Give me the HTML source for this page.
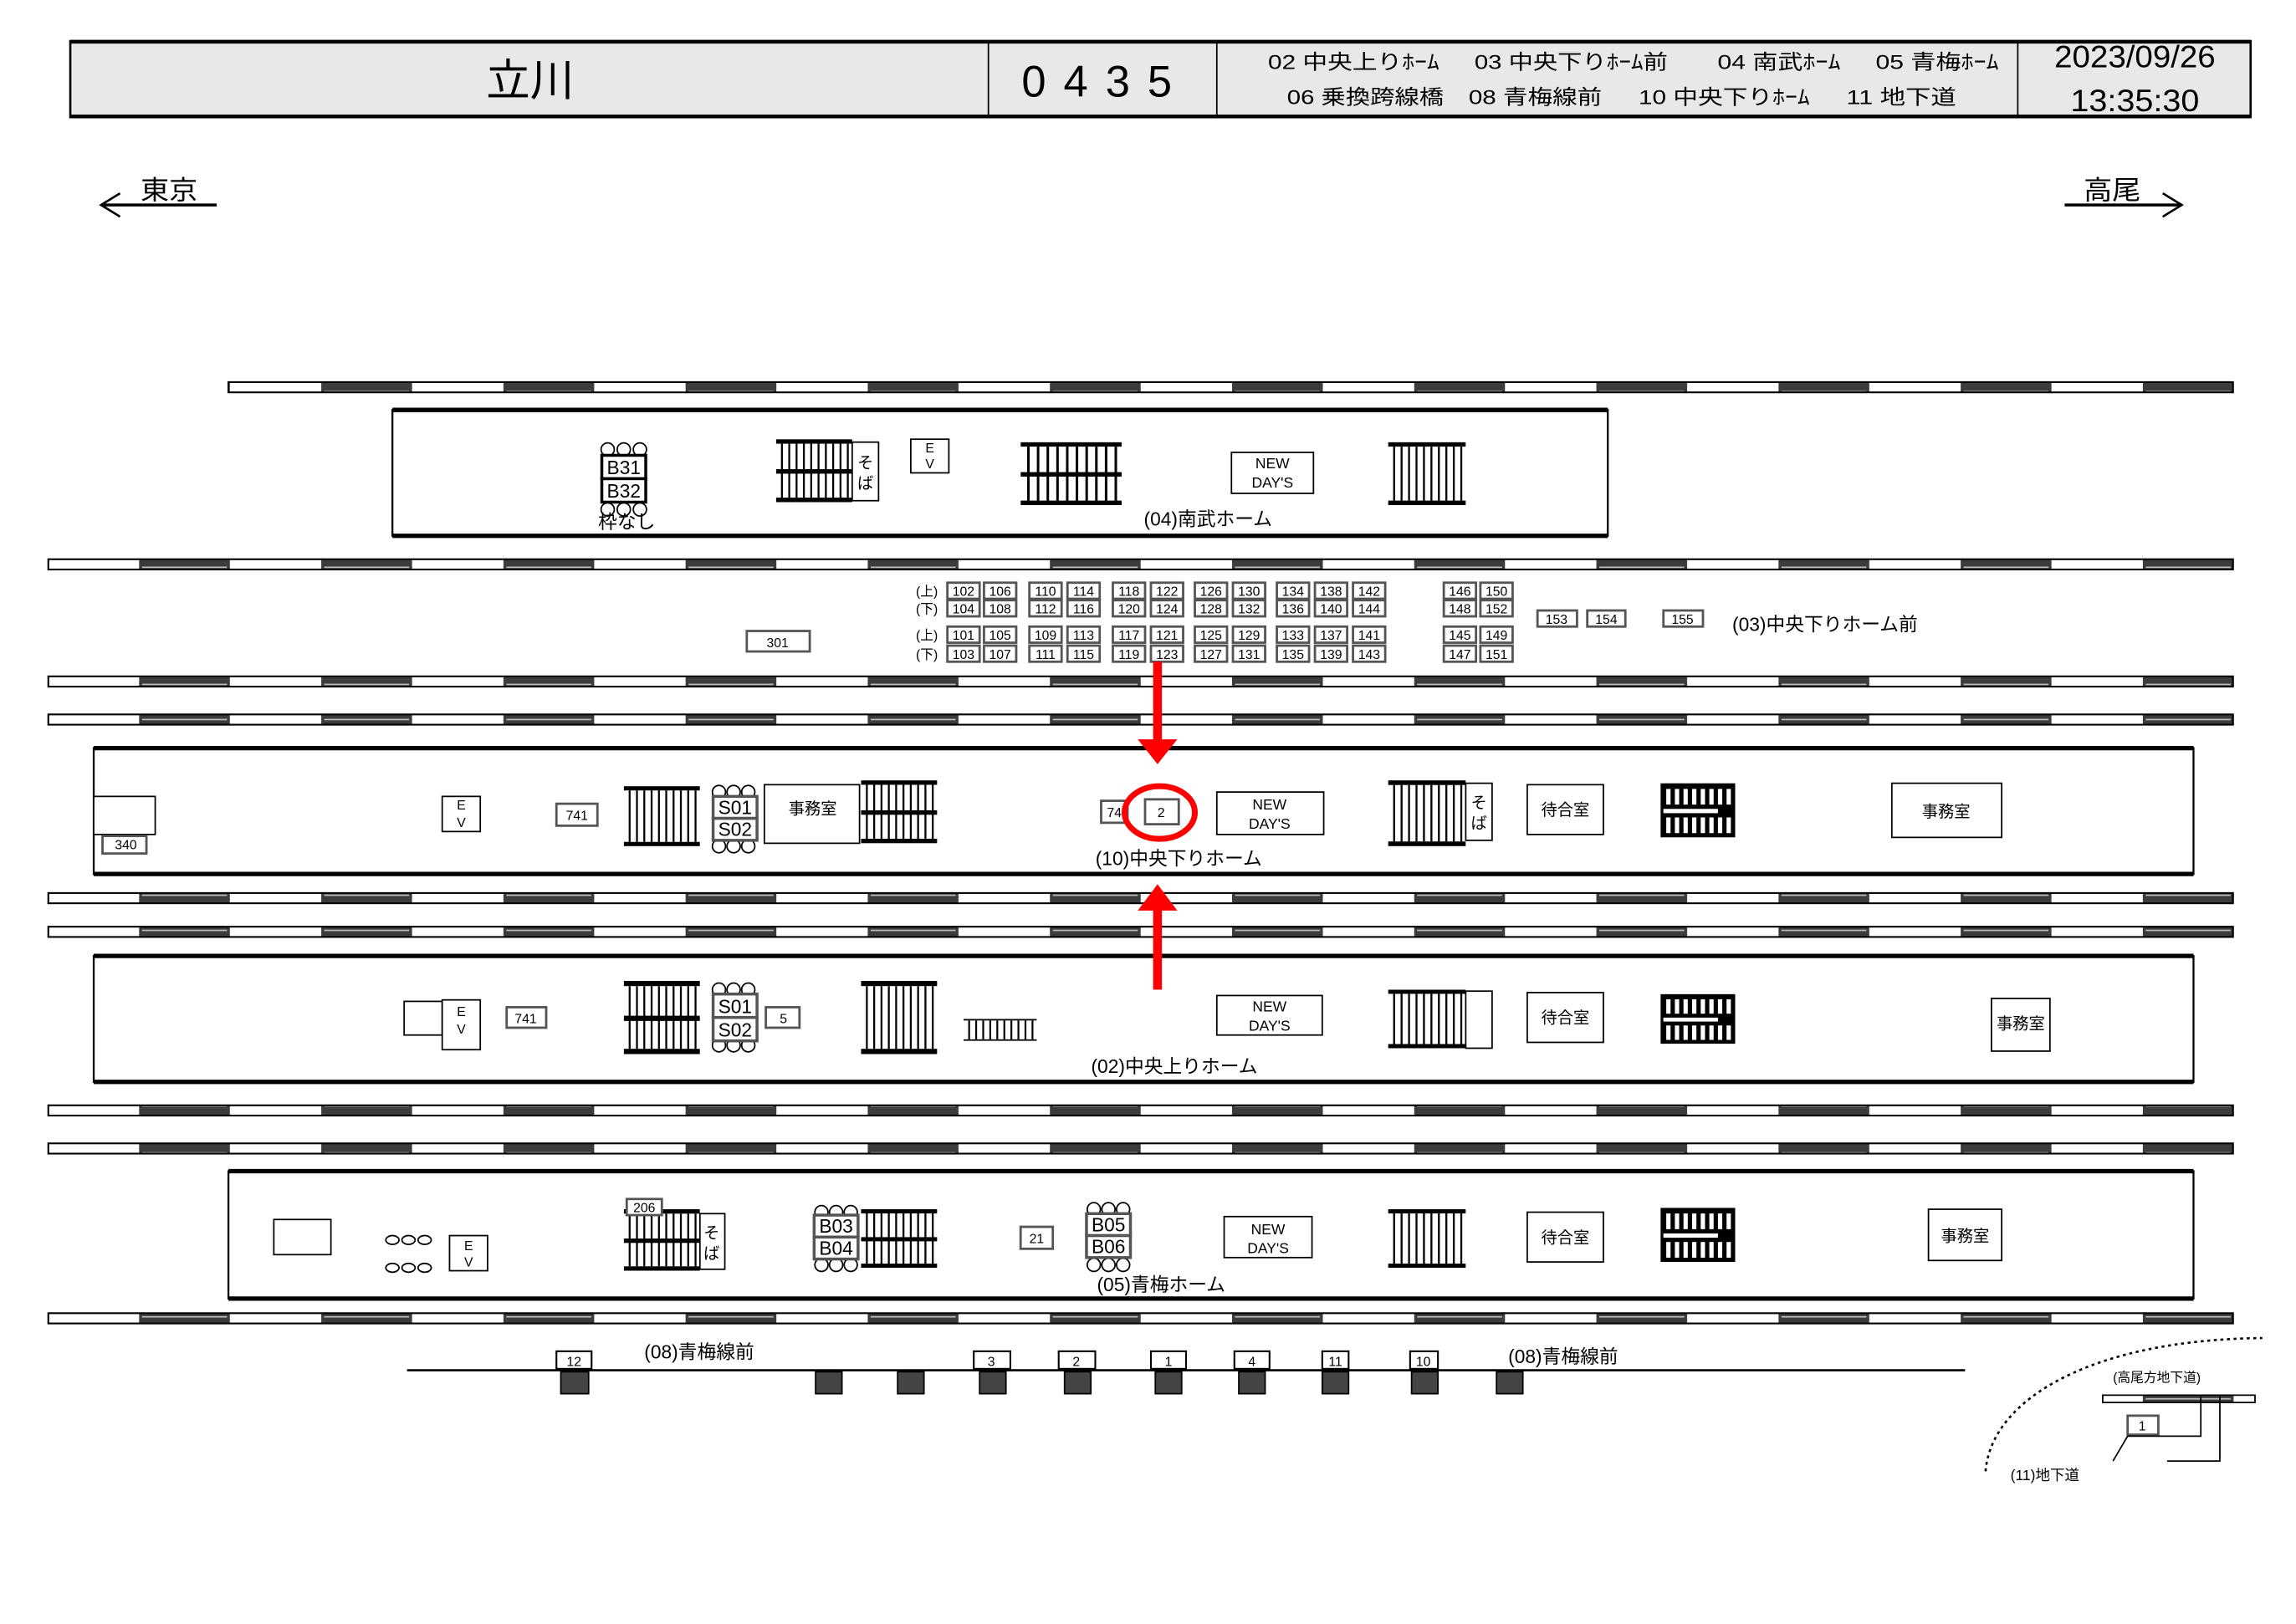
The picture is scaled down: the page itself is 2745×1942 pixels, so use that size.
<!DOCTYPE html>
<html><head><meta charset="utf-8"><style>
html,body{margin:0;padding:0;background:#fff;width:2745px;height:1942px;overflow:hidden}
svg{display:block}
text{font-family:"Liberation Sans","Noto Sans CJK JP",sans-serif;fill:#000}
</style></head><body>
<svg width="2745" height="1942" viewBox="0 0 1568 1109.3" xmlns="http://www.w3.org/2000/svg">
<defs>
<pattern id="trk" patternUnits="userSpaceOnUse" x="95" y="0" width="124.4" height="8">
<rect x="0" y="0" width="62" height="8" fill="#3c3c3c"/>
<rect x="2" y="3" width="58" height="1" fill="#bbb"/>
</pattern>
<symbol id="st" viewBox="0 0 52 42" preserveAspectRatio="none">
<rect x="0.5" y="0.5" width="51" height="41" fill="#fff"/>
<rect x="0" y="0" width="52" height="3" fill="#000"/>
<rect x="0" y="39" width="52" height="3" fill="#000"/>
<g stroke="#000" stroke-width="1.3">
<line x1="4" y1="3" x2="4" y2="39"/><line x1="9" y1="3" x2="9" y2="39"/><line x1="14" y1="3" x2="14" y2="39"/><line x1="19" y1="3" x2="19" y2="39"/><line x1="24" y1="3" x2="24" y2="39"/><line x1="29" y1="3" x2="29" y2="39"/><line x1="34" y1="3" x2="34" y2="39"/><line x1="39" y1="3" x2="39" y2="39"/><line x1="44" y1="3" x2="44" y2="39"/><line x1="49" y1="3" x2="49" y2="39"/>
</g>
</symbol>
<symbol id="st2" viewBox="0 0 52 42" preserveAspectRatio="none">
<rect x="0.5" y="0.5" width="51" height="41" fill="#fff"/>
<rect x="0" y="0" width="52" height="3" fill="#000"/>
<rect x="0" y="20" width="52" height="3" fill="#000"/>
<rect x="0" y="39" width="52" height="3" fill="#000"/>
<g stroke="#000" stroke-width="1.3">
<line x1="4" y1="3" x2="4" y2="39"/><line x1="9" y1="3" x2="9" y2="39"/><line x1="14" y1="3" x2="14" y2="39"/><line x1="19" y1="3" x2="19" y2="39"/><line x1="24" y1="3" x2="24" y2="39"/><line x1="29" y1="3" x2="29" y2="39"/><line x1="34" y1="3" x2="34" y2="39"/><line x1="39" y1="3" x2="39" y2="39"/><line x1="44" y1="3" x2="44" y2="39"/><line x1="49" y1="3" x2="49" y2="39"/>
</g>
</symbol>
<symbol id="dk" viewBox="0 0 52 38" preserveAspectRatio="none">
<rect x="0" y="0" width="52" height="38" fill="#000"/>
<g fill="#fff">
<rect x="4" y="4" width="3" height="11"/><rect x="10" y="4" width="3" height="11"/><rect x="16" y="4" width="3" height="11"/><rect x="22" y="4" width="3" height="11"/><rect x="28" y="4" width="3" height="11"/><rect x="34" y="4" width="3" height="11"/><rect x="40" y="4" width="3" height="11"/><rect x="46" y="4" width="3" height="11"/>
<rect x="2" y="18" width="38" height="3"/>
<rect x="4" y="24" width="3" height="11"/><rect x="10" y="24" width="3" height="11"/><rect x="16" y="24" width="3" height="11"/><rect x="22" y="24" width="3" height="11"/><rect x="28" y="24" width="3" height="11"/><rect x="34" y="24" width="3" height="11"/><rect x="40" y="24" width="3" height="11"/><rect x="46" y="24" width="3" height="11"/>
</g>
</symbol>
</defs>

<!-- header -->
<rect x="48" y="28" width="1489" height="52" fill="#e8e8e8" stroke="#000" stroke-width="1.5"/>
<line x1="48" y1="28.5" x2="1537" y2="28.5" stroke="#000" stroke-width="2.5"/>
<line x1="48" y1="79.5" x2="1537" y2="79.5" stroke="#000" stroke-width="2.5"/>
<g stroke="#000" stroke-width="1"><line x1="675" y1="28" x2="675" y2="80"/><line x1="831" y1="28" x2="831" y2="80"/><line x1="1378" y1="28" x2="1378" y2="80"/></g>
<text x="362" y="65" font-size="30" text-anchor="middle">立川</text>
<text x="755" y="66" font-size="30" text-anchor="middle" letter-spacing="12">0435</text>
<g font-size="14">
<text x="866" y="47" textLength="117" lengthAdjust="spacingAndGlyphs">02 中央上りﾎｰﾑ</text>
<text x="1007" y="47" textLength="132" lengthAdjust="spacingAndGlyphs">03 中央下りﾎｰﾑ前</text>
<text x="1173" y="47" textLength="84" lengthAdjust="spacingAndGlyphs">04 南武ﾎｰﾑ</text>
<text x="1281" y="47" textLength="84" lengthAdjust="spacingAndGlyphs">05 青梅ﾎｰﾑ</text>
<text x="879" y="71" textLength="107" lengthAdjust="spacingAndGlyphs">06 乗換跨線橋</text>
<text x="1003" y="71" textLength="91" lengthAdjust="spacingAndGlyphs">08 青梅線前</text>
<text x="1119" y="71" textLength="117" lengthAdjust="spacingAndGlyphs">10 中央下りﾎｰﾑ</text>
<text x="1261" y="71" textLength="75" lengthAdjust="spacingAndGlyphs">11 地下道</text>
</g>
<text x="1458" y="46" font-size="21" text-anchor="middle" textLength="110" lengthAdjust="spacingAndGlyphs">2023/09/26</text>
<text x="1458" y="76" font-size="21" text-anchor="middle" textLength="88" lengthAdjust="spacingAndGlyphs">13:35:30</text>

<!-- direction -->
<text x="96" y="136" font-size="18" textLength="39" lengthAdjust="spacingAndGlyphs">東京</text>
<polyline points="82,132 69,140 82,148" fill="none" stroke="#000" stroke-width="1.5"/>
<line x1="69" y1="140" x2="148" y2="140" stroke="#000" stroke-width="2"/>
<text x="1423" y="136" font-size="18" textLength="39" lengthAdjust="spacingAndGlyphs">高尾</text>
<polyline points="1477,132 1490,140 1477,148" fill="none" stroke="#000" stroke-width="1.5"/>
<line x1="1410" y1="140" x2="1490" y2="140" stroke="#000" stroke-width="2"/>

<!-- tracks -->
<g fill="url(#trk)" stroke="#000" stroke-width="1.2">
<rect x="156" y="261" width="1369" height="7"/>
<rect x="33" y="382" width="1492" height="7"/>
<rect x="33" y="462" width="1492" height="7"/>
<rect x="33" y="488" width="1492" height="7"/>
<rect x="33" y="610" width="1492" height="7"/>
<rect x="33" y="633" width="1492" height="7"/>
<rect x="33" y="755" width="1492" height="7"/>
<rect x="33" y="781" width="1492" height="7"/>
<rect x="33" y="897" width="1492" height="7"/>
</g>

<!-- platforms -->
<g fill="none" stroke="#000" stroke-width="1.3">
<rect x="268" y="280" width="830" height="86"/>
<rect x="64" y="511" width="1434" height="86"/>
<rect x="64" y="653" width="1434" height="86"/>
<rect x="156" y="800" width="1342" height="87"/>
</g>
<g stroke="#000" stroke-width="3">
<line x1="268" y1="280" x2="1098" y2="280"/><line x1="268" y1="366" x2="1098" y2="366"/>
<line x1="64" y1="511" x2="1498" y2="511"/><line x1="64" y1="597" x2="1498" y2="597"/>
<line x1="64" y1="653" x2="1498" y2="653"/><line x1="64" y1="739" x2="1498" y2="739"/>
<line x1="156" y1="800" x2="1498" y2="800"/><line x1="156" y1="887" x2="1498" y2="887"/>
</g>

<!-- P04 -->
<g fill="#fff" stroke="#000" stroke-width="1">
<circle cx="415" cy="307" r="4.5"/><circle cx="426" cy="307" r="4.5"/><circle cx="437" cy="307" r="4.5"/>
<circle cx="415" cy="348" r="4.5"/><circle cx="426" cy="348" r="4.5"/><circle cx="437" cy="348" r="4.5"/>
<rect x="411" y="311" width="30" height="16" stroke-width="2"/><rect x="411" y="327" width="30" height="16" stroke-width="2"/>
</g>
<text x="426" y="324" font-size="13" text-anchor="middle">B31</text>
<text x="426" y="340" font-size="13" text-anchor="middle">B32</text>
<text x="428" y="361" font-size="13" text-anchor="middle">枠なし</text>
<use href="#st2" x="530" y="300" width="52" height="43"/>
<rect x="582" y="302" width="18" height="40" fill="#fff" stroke="#000"/>
<text x="591" y="320" font-size="11" text-anchor="middle">そ</text><text x="591" y="334" font-size="11" text-anchor="middle">ば</text>
<rect x="622" y="300" width="26" height="23" fill="#fff" stroke="#000"/>
<text x="635" y="309" font-size="9" text-anchor="middle">E</text><text x="635" y="320" font-size="9" text-anchor="middle">V</text>
<use href="#st2" x="697" y="302" width="69" height="43"/>
<rect x="841" y="309" width="56" height="28" fill="#fff" stroke="#000"/>
<text x="869" y="320" font-size="10" text-anchor="middle">NEW</text><text x="869" y="333" font-size="10" text-anchor="middle">DAY'S</text>
<use href="#st" x="948" y="302" width="53" height="43"/>
<text x="825" y="359" font-size="13" text-anchor="middle">(04)南武ホーム</text>

<!-- 03 grid -->
<g font-size="9" text-anchor="middle">
<text x="633" y="407">(上)</text><text x="633" y="419">(下)</text><text x="633" y="437">(上)</text><text x="633" y="450">(下)</text>
</g>
<g fill="#fff" stroke="#555" stroke-width="1.6">
<rect x="647" y="398" width="22" height="11"/><rect x="672" y="398" width="22" height="11"/><rect x="703" y="398" width="22" height="11"/><rect x="729" y="398" width="22" height="11"/><rect x="760" y="398" width="22" height="11"/><rect x="786" y="398" width="22" height="11"/><rect x="816" y="398" width="22" height="11"/><rect x="842" y="398" width="22" height="11"/><rect x="872" y="398" width="22" height="11"/><rect x="898" y="398" width="22" height="11"/><rect x="924" y="398" width="22" height="11"/><rect x="986" y="398" width="22" height="11"/><rect x="1011" y="398" width="22" height="11"/>
<rect x="647" y="410" width="22" height="11"/><rect x="672" y="410" width="22" height="11"/><rect x="703" y="410" width="22" height="11"/><rect x="729" y="410" width="22" height="11"/><rect x="760" y="410" width="22" height="11"/><rect x="786" y="410" width="22" height="11"/><rect x="816" y="410" width="22" height="11"/><rect x="842" y="410" width="22" height="11"/><rect x="872" y="410" width="22" height="11"/><rect x="898" y="410" width="22" height="11"/><rect x="924" y="410" width="22" height="11"/><rect x="986" y="410" width="22" height="11"/><rect x="1011" y="410" width="22" height="11"/>
<rect x="647" y="428" width="22" height="11"/><rect x="672" y="428" width="22" height="11"/><rect x="703" y="428" width="22" height="11"/><rect x="729" y="428" width="22" height="11"/><rect x="760" y="428" width="22" height="11"/><rect x="786" y="428" width="22" height="11"/><rect x="816" y="428" width="22" height="11"/><rect x="842" y="428" width="22" height="11"/><rect x="872" y="428" width="22" height="11"/><rect x="898" y="428" width="22" height="11"/><rect x="924" y="428" width="22" height="11"/><rect x="986" y="428" width="22" height="11"/><rect x="1011" y="428" width="22" height="11"/>
<rect x="647" y="441" width="22" height="11"/><rect x="672" y="441" width="22" height="11"/><rect x="703" y="441" width="22" height="11"/><rect x="729" y="441" width="22" height="11"/><rect x="760" y="441" width="22" height="11"/><rect x="786" y="441" width="22" height="11"/><rect x="816" y="441" width="22" height="11"/><rect x="842" y="441" width="22" height="11"/><rect x="872" y="441" width="22" height="11"/><rect x="898" y="441" width="22" height="11"/><rect x="924" y="441" width="22" height="11"/><rect x="986" y="441" width="22" height="11"/><rect x="1011" y="441" width="22" height="11"/>
<rect x="1050" y="417" width="27" height="11"/><rect x="1084" y="417" width="26" height="11"/><rect x="1136" y="417" width="27" height="11"/>
<rect x="510" y="431" width="43" height="14"/>
</g>
<g font-size="9" text-anchor="middle">
<text x="658" y="407">102</text><text x="683" y="407">106</text><text x="714" y="407">110</text><text x="740" y="407">114</text><text x="771" y="407">118</text><text x="797" y="407">122</text><text x="827" y="407">126</text><text x="853" y="407">130</text><text x="883" y="407">134</text><text x="909" y="407">138</text><text x="935" y="407">142</text><text x="997" y="407">146</text><text x="1022" y="407">150</text>
<text x="658" y="419">104</text><text x="683" y="419">108</text><text x="714" y="419">112</text><text x="740" y="419">116</text><text x="771" y="419">120</text><text x="797" y="419">124</text><text x="827" y="419">128</text><text x="853" y="419">132</text><text x="883" y="419">136</text><text x="909" y="419">140</text><text x="935" y="419">144</text><text x="997" y="419">148</text><text x="1022" y="419">152</text>
<text x="658" y="437">101</text><text x="683" y="437">105</text><text x="714" y="437">109</text><text x="740" y="437">113</text><text x="771" y="437">117</text><text x="797" y="437">121</text><text x="827" y="437">125</text><text x="853" y="437">129</text><text x="883" y="437">133</text><text x="909" y="437">137</text><text x="935" y="437">141</text><text x="997" y="437">145</text><text x="1022" y="437">149</text>
<text x="658" y="450">103</text><text x="683" y="450">107</text><text x="714" y="450">111</text><text x="740" y="450">115</text><text x="771" y="450">119</text><text x="797" y="450">123</text><text x="827" y="450">127</text><text x="853" y="450">131</text><text x="883" y="450">135</text><text x="909" y="450">139</text><text x="935" y="450">143</text><text x="997" y="450">147</text><text x="1022" y="450">151</text>
<text x="1063" y="426">153</text><text x="1097" y="426">154</text><text x="1149" y="426">155</text>
<text x="531" y="442">301</text>
</g>
<text x="1183" y="431" font-size="13">(03)中央下りホーム前</text>

<!-- P10 -->
<g fill="#fff" stroke="#000" stroke-width="1">
<rect x="64" y="544" width="42" height="26"/>
<rect x="70" y="571" width="30" height="12" stroke="#555" stroke-width="1.6"/>
<rect x="302" y="544" width="26" height="24"/>
<rect x="380" y="549" width="28" height="15" stroke="#555" stroke-width="1.6"/>
<circle cx="491" cy="541" r="4.5"/><circle cx="501" cy="541" r="4.5"/><circle cx="511" cy="541" r="4.5"/>
<circle cx="491" cy="578" r="4.5"/><circle cx="501" cy="578" r="4.5"/><circle cx="511" cy="578" r="4.5"/>
<rect x="487" y="544" width="30" height="15" stroke="#555" stroke-width="2"/><rect x="487" y="559" width="30" height="15" stroke="#555" stroke-width="2"/>
<rect x="522" y="536" width="65" height="40"/>
<rect x="752" y="547" width="18" height="15" stroke="#555" stroke-width="1.6"/>
<rect x="782" y="546" width="23" height="17" stroke="#555" stroke-width="1.6"/>
<rect x="831" y="541" width="73" height="29"/>
<rect x="1001" y="535" width="18" height="39"/>
<rect x="1043" y="536" width="52" height="34"/>
<rect x="1292" y="535" width="75" height="37"/>
</g>
<text x="86" y="580" font-size="9" text-anchor="middle">340</text>
<text x="315" y="553" font-size="9" text-anchor="middle">E</text><text x="315" y="565" font-size="9" text-anchor="middle">V</text>
<text x="394" y="560" font-size="9" text-anchor="middle">741</text>
<text x="502" y="556" font-size="13" text-anchor="middle">S01</text><text x="502" y="571" font-size="13" text-anchor="middle">S02</text>
<text x="555" y="556" font-size="11" text-anchor="middle">事務室</text>
<use href="#st" x="426" y="537" width="52" height="41"/>
<use href="#st2" x="588" y="533" width="52" height="43"/>
<text x="761" y="558" font-size="9" text-anchor="middle">74</text>
<text x="793" y="558" font-size="9" text-anchor="middle">2</text>
<text x="867" y="553" font-size="10" text-anchor="middle">NEW</text><text x="867" y="566" font-size="10" text-anchor="middle">DAY'S</text>
<use href="#st" x="948" y="533" width="53" height="45"/>
<text x="1010" y="552" font-size="11" text-anchor="middle">そ</text><text x="1010" y="566" font-size="11" text-anchor="middle">ば</text>
<text x="1069" y="557" font-size="11" text-anchor="middle">待合室</text>
<use href="#dk" x="1134" y="535" width="51" height="37"/>
<text x="1329" y="558" font-size="11" text-anchor="middle">事務室</text>
<text x="805" y="591" font-size="13" text-anchor="middle">(10)中央下りホーム</text>

<!-- P02 -->
<g fill="#fff" stroke="#000" stroke-width="1">
<rect x="276" y="684" width="26" height="23"/>
<rect x="302" y="683" width="26" height="34"/>
<rect x="346" y="688" width="27" height="14" stroke="#555" stroke-width="1.6"/>
<circle cx="491" cy="676" r="4.5"/><circle cx="501" cy="676" r="4.5"/><circle cx="511" cy="676" r="4.5"/>
<circle cx="491" cy="714" r="4.5"/><circle cx="501" cy="714" r="4.5"/><circle cx="511" cy="714" r="4.5"/>
<rect x="487" y="679" width="30" height="16" stroke="#555" stroke-width="2"/><rect x="487" y="695" width="30" height="16" stroke="#555" stroke-width="2"/>
<rect x="523" y="688" width="23" height="14" stroke="#555" stroke-width="1.6"/>
<rect x="831" y="680" width="72" height="27"/>
<rect x="1001" y="677" width="18" height="39"/>
<rect x="1043" y="678" width="52" height="34"/>
<rect x="1360" y="682" width="40" height="36"/>
</g>
<text x="315" y="694" font-size="9" text-anchor="middle">E</text><text x="315" y="706" font-size="9" text-anchor="middle">V</text>
<text x="359" y="699" font-size="9" text-anchor="middle">741</text>
<text x="502" y="692" font-size="13" text-anchor="middle">S01</text><text x="502" y="708" font-size="13" text-anchor="middle">S02</text>
<text x="535" y="699" font-size="9" text-anchor="middle">5</text>
<use href="#st2" x="426" y="670" width="52" height="50"/>
<use href="#st" x="588" y="670" width="52" height="50"/>
<use href="#st" x="658" y="696" width="50" height="15"/>
<text x="867" y="691" font-size="10" text-anchor="middle">NEW</text><text x="867" y="704" font-size="10" text-anchor="middle">DAY'S</text>
<use href="#st" x="948" y="676" width="53" height="40"/>
<text x="1069" y="699" font-size="11" text-anchor="middle">待合室</text>
<use href="#dk" x="1134" y="679" width="51" height="34"/>
<text x="1380" y="703" font-size="11" text-anchor="middle">事務室</text>
<text x="802" y="733" font-size="13" text-anchor="middle">(02)中央上りホーム</text>

<!-- P05 -->
<g fill="#fff" stroke="#000" stroke-width="1">
<rect x="187" y="833" width="39" height="24"/>
<ellipse cx="268" cy="847" rx="4.5" ry="3"/><ellipse cx="279" cy="847" rx="4.5" ry="3"/><ellipse cx="290" cy="847" rx="4.5" ry="3"/>
<ellipse cx="268" cy="866" rx="4.5" ry="3"/><ellipse cx="279" cy="866" rx="4.5" ry="3"/><ellipse cx="290" cy="866" rx="4.5" ry="3"/>
<rect x="307" y="844" width="26" height="24"/>
<rect x="478" y="829" width="17" height="38"/>
</g>
<text x="320" y="854" font-size="9" text-anchor="middle">E</text><text x="320" y="865" font-size="9" text-anchor="middle">V</text>
<use href="#st2" x="426" y="826" width="52" height="42"/>
<rect x="428" y="819" width="24" height="11" fill="#fff" stroke="#555" stroke-width="1.6"/>
<text x="440" y="828" font-size="9" text-anchor="middle">206</text>
<text x="486" y="846" font-size="11" text-anchor="middle">そ</text><text x="486" y="860" font-size="11" text-anchor="middle">ば</text>
<g fill="#fff" stroke="#000" stroke-width="1">
<circle cx="561" cy="828" r="4.5"/><circle cx="571" cy="828" r="4.5"/><circle cx="581" cy="828" r="4.5"/>
<circle cx="561" cy="864" r="4.5"/><circle cx="571" cy="864" r="4.5"/><circle cx="581" cy="864" r="4.5"/>
<rect x="556" y="830" width="30" height="15" stroke="#555" stroke-width="2"/><rect x="556" y="845" width="30" height="15" stroke="#555" stroke-width="2"/>
<circle cx="747" cy="826" r="4.5"/><circle cx="757" cy="826" r="4.5"/><circle cx="767" cy="826" r="4.5"/>
<circle cx="747" cy="864" r="4.5"/><circle cx="757" cy="864" r="4.5"/><circle cx="767" cy="864" r="4.5"/>
<rect x="742" y="829" width="30" height="15" stroke="#555" stroke-width="2"/><rect x="742" y="844" width="30" height="15" stroke="#555" stroke-width="2"/>
<rect x="697" y="838" width="22" height="15" stroke="#555" stroke-width="1.6"/>
<rect x="836" y="831" width="60" height="28"/>
<rect x="1043" y="828" width="52" height="34"/>
<rect x="1317" y="826" width="50" height="35"/>
</g>
<text x="571" y="842" font-size="13" text-anchor="middle">B03</text><text x="571" y="857" font-size="13" text-anchor="middle">B04</text>
<use href="#st2" x="588" y="826" width="52" height="40"/>
<text x="708" y="849" font-size="9" text-anchor="middle">21</text>
<text x="757" y="841" font-size="13" text-anchor="middle">B05</text><text x="757" y="856" font-size="13" text-anchor="middle">B06</text>
<text x="866" y="843" font-size="10" text-anchor="middle">NEW</text><text x="866" y="856" font-size="10" text-anchor="middle">DAY'S</text>
<use href="#st" x="948" y="826" width="53" height="40"/>
<text x="1069" y="849" font-size="11" text-anchor="middle">待合室</text>
<use href="#dk" x="1134" y="825" width="51" height="37"/>
<text x="1342" y="848" font-size="11" text-anchor="middle">事務室</text>
<text x="793" y="882" font-size="13" text-anchor="middle">(05)青梅ホーム</text>

<!-- 08 -->
<line x1="278" y1="936" x2="1342" y2="936" stroke="#000" stroke-width="1.5"/>
<g fill="#444" stroke="#000" stroke-width="1">
<rect x="383" y="937" width="19" height="15"/><rect x="557" y="937" width="18" height="15"/><rect x="613" y="937" width="18" height="15"/>
<rect x="669" y="937" width="18" height="15"/><rect x="727" y="937" width="18" height="15"/><rect x="789" y="937" width="18" height="15"/>
<rect x="846" y="937" width="18" height="15"/><rect x="903" y="937" width="18" height="15"/><rect x="964" y="937" width="18" height="15"/><rect x="1022" y="937" width="18" height="15"/>
</g>
<g fill="#fff" stroke="#000" stroke-width="1.2">
<rect x="380" y="923" width="24" height="12"/><rect x="665" y="923" width="25" height="12"/><rect x="723" y="923" width="25" height="12"/><rect x="786" y="923" width="24" height="12"/><rect x="843" y="923" width="24" height="12"/><rect x="903" y="923" width="18" height="12"/><rect x="963" y="923" width="19" height="12"/>
</g>
<g font-size="9" text-anchor="middle">
<text x="392" y="933">12</text><text x="677" y="933">3</text><text x="735" y="933">2</text><text x="798" y="933">1</text><text x="855" y="933">4</text><text x="912" y="933">11</text><text x="972" y="933">10</text>
</g>
<text x="440" y="928" font-size="13">(08)青梅線前</text>
<text x="1030" y="931" font-size="13">(08)青梅線前</text>

<!-- inset -->
<path d="M1356,1005 C1360,955 1430,915 1545,914" fill="none" stroke="#000" stroke-width="1.5" stroke-dasharray="2,2.5"/>
<rect x="1436" y="953" width="104" height="5" fill="url(#trk)" stroke="#000" stroke-width="1"/>
<rect x="1453" y="967" width="21" height="13" fill="#fff" stroke="#555" stroke-width="1.6"/>
<text x="1463" y="977" font-size="9" text-anchor="middle">1</text>
<text x="1443" y="944" font-size="9">(高尾方地下道)</text>
<polyline points="1443,998 1453,981 1503,981 1503,954" fill="none" stroke="#000" stroke-width="1"/>
<polyline points="1480,998 1516,998 1516,954" fill="none" stroke="#000" stroke-width="1"/>
<text x="1373" y="1011" font-size="10">(11)地下道</text>

<!-- red marks -->
<g fill="#f00" stroke="none">
<rect x="787.5" y="452" width="6" height="55"/>
<polygon points="777,505 804,505 790.5,522"/>
<polygon points="777,622 804,622 790.5,604"/>
<rect x="787.5" y="620" width="6" height="56"/>
</g>
<ellipse cx="792" cy="555" rx="24" ry="18" fill="none" stroke="#f00" stroke-width="4"/>
</svg>
</body></html>
